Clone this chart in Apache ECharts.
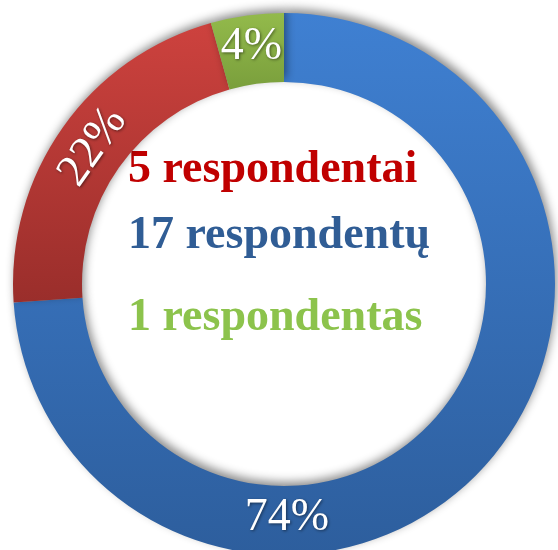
<!DOCTYPE html>
<html>
<head>
<meta charset="utf-8">
<script src="https://cdn.jsdelivr.net/npm/echarts@6/dist/echarts.min.js"></script>
<style>
  html, body { margin: 0; padding: 0; background: #fff; }
  #chart { width: 558px; height: 550px; }
</style>
</head>
<body>
<div id="chart"></div>
<script>
// slice data, clockwise from 12 o'clock
const categories = ['17 respondentų', '5 respondentai', '1 respondentas'];
const counts = [17, 5, 1];
const pctLabels = ['74%', '22%', '4%'];

// center legend lines, top to bottom
const centerLines = ['5 respondentai', '17 respondentų', '1 respondentas'];
const centerColors = ['#c00000', '#305d95', '#8cc34c'];

const grad = (top, bottom) => new echarts.graphic.LinearGradient(0, 0, 0, 1, [
  { offset: 0, color: top },
  { offset: 1, color: bottom }
]);
const sliceFills = [
  grad('#3f80d2', '#2d5e9d'),
  grad('#cd423e', '#9a2e2b'),
  grad('#93ba4b', '#7a9f3c')
];

const chart = echarts.init(document.getElementById('chart'));

const lineY = [170, 236, 318];

chart.setOption({
  animation: false,
  series: [
    {
      type: 'pie',
      center: [284, 284],
      radius: [202, 271],
      startAngle: 90,
      clockwise: true,
      silent: true,
      itemStyle: {
        shadowBlur: 10,
        shadowOffsetX: 2,
        shadowOffsetY: -4,
        shadowColor: 'rgba(0,0,0,0.45)'
      },
      label: {
        show: true,
        position: 'inside',
        rotate: 'tangential',
        formatter: (p) => pctLabels[p.dataIndex],
        color: '#fff',
        fontFamily: 'Liberation Serif',
        fontSize: 46,
        textShadowColor: 'rgba(0,0,0,0.5)',
        textShadowBlur: 3,
        textShadowOffsetX: 1,
        textShadowOffsetY: 1
      },
      // 74% sits at the bottom of the ring, 4% stays upright
      labelLayout: (p) => {
        if (p.dataIndex === 0) return { x: 287, y: 518, rotate: 0 };
        if (p.dataIndex === 1) return { x: 93, y: 147 };
        if (p.dataIndex === 2) return { rotate: 0 };
        return {};
      },
      labelLine: { show: false },
      data: counts.map((v, i) => ({
        name: categories[i],
        value: v,
        itemStyle: { color: sliceFills[i] }
      }))
    }
  ],
  graphic: centerLines.map((t, i) => ({
    type: 'text',
    x: 128,
    y: lineY[i],
    style: {
      text: t,
      fill: centerColors[i],
      font: 'bold 46px "Liberation Serif"',
      align: 'left',
      verticalAlign: 'middle',
      shadowColor: 'rgba(0,0,0,0.3)',
      shadowBlur: 2,
      shadowOffsetX: 1,
      shadowOffsetY: 1
    }
  }))
});
</script>
</body>
</html>
